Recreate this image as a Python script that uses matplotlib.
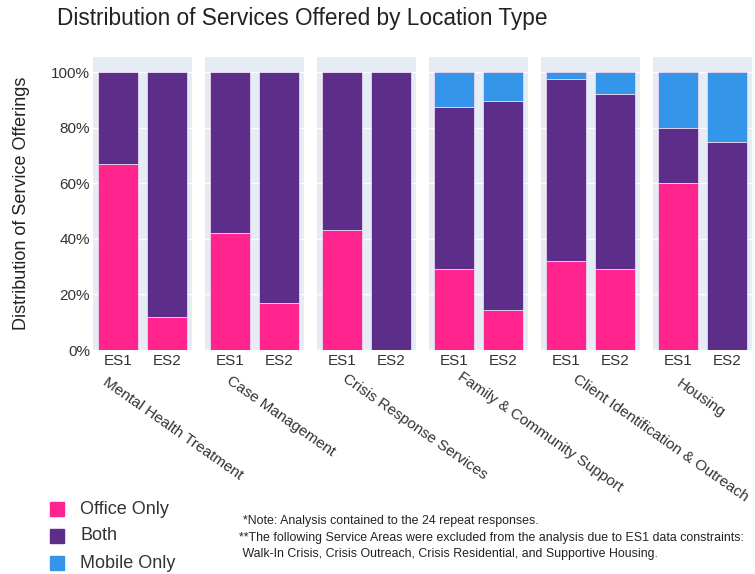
import matplotlib.pyplot as plt
import numpy as np

plt.rcParams['font.family'] = ['Liberation Sans', 'DejaVu Sans']

services = ['Mental Health Treatment', 'Case Management', 'Crisis Response Services',
            'Family & Community Support', 'Client Identification & Outreach', 'Housing']
groups = ['ES1', 'ES2']

# percent of offerings, (ES1, ES2) per service
office_only = [(67, 12), (42, 17), (43, 0), (29, 14.5), (32, 29), (60, 0)]
both = [(33, 88), (58, 83), (57, 100), (58.5, 75), (65.5, 63), (20, 75)]
mobile_only = [(0, 0), (0, 0), (0, 0), (12.5, 10.5), (2.5, 8), (20, 25)]

series = ['Office Only', 'Both', 'Mobile Only']
colors = ['#FF248E', '#5C2D89', '#3595EA']

fig = plt.figure(figsize=(7.55, 5.74), dpi=100)

W, H = 755, 574
left0, panel_w, gap = 93, 99, 13
top_px, bottom_px = 57, 350
# where each rotated service label starts (pixels from top-left)
label_pos = [(108, 375), (232, 374), (348, 372), (463, 370), (578, 372), (682, 377)]

for i, name in enumerate(services):
    x0 = left0 + i * (panel_w + gap)
    ax = fig.add_axes([x0 / W, (H - bottom_px) / H, panel_w / W, (bottom_px - top_px) / H])
    ax.set_facecolor('#E5ECF6')
    x = np.arange(len(groups))
    bottom = np.zeros(len(groups))
    for vals, c in zip([office_only[i], both[i], mobile_only[i]], colors):
        v = np.array(vals, dtype=float)
        ax.bar(x, v, 0.8, bottom=bottom, color=c, edgecolor='#E8D6EE', linewidth=0.6, zorder=3)
        bottom += v
    ax.set_xlim(-0.5, 1.5)
    ax.set_ylim(0, 105.4)
    ax.set_yticks([0, 20, 40, 60, 80, 100])
    ax.grid(axis='y', color='white', linewidth=1, zorder=0)
    ax.set_axisbelow(True)
    for s in ax.spines.values():
        s.set_visible(False)
    ax.tick_params(length=0, labelsize=11, colors='#333333', pad=3)
    ax.set_xticks(x)
    ax.set_xticklabels(groups)
    if i == 0:
        ax.set_yticklabels([f'{t}%' for t in [0, 20, 40, 60, 80, 100]])
        ax.tick_params(axis='y', pad=2)
    else:
        ax.set_yticklabels([])
    lx, ly = label_pos[i]
    fig.text(lx / W, 1 - ly / H, name, rotation=-35, ha='left', va='top',
             rotation_mode='anchor', fontsize=11, color='#333333')

fig.text(22 / W, 1 - 203 / H, 'Distribution of Service Offerings', rotation=90,
         fontsize=13, color='#222222', ha='center', va='center')

fig.text(57 / W, 1 - 18 / H, 'Distribution of Services Offered by Location Type',
         fontsize=16.3, color='#222222', va='center', ha='left')

# legend
for j, (lab, c) in enumerate(zip(series, colors)):
    y = 1 - (509 + j * 27) / H
    fig.patches.append(plt.Rectangle((50 / W, y - 7 / H), 14 / W, 14 / H, color=c,
                                     transform=fig.transFigure, figure=fig))
    fig.text(80 / W, y, lab, fontsize=13, color='#333333', va='center', ha='left')

notes = ['*Note: Analysis contained to the 24 repeat responses.',
         '**The following Service Areas were excluded from the analysis due to ES1 data constraints:',
         ' Walk-In Crisis, Crisis Outreach, Crisis Residential, and Supportive Housing.']
for k, t in enumerate(notes):
    fig.text((243 if k == 0 else 239) / W, 1 - (521 + k * 16.5) / H, t, fontsize=8.9,
             color='#222222', va='center', ha='left')

fig.savefig('out.png', dpi=100, facecolor='white')
